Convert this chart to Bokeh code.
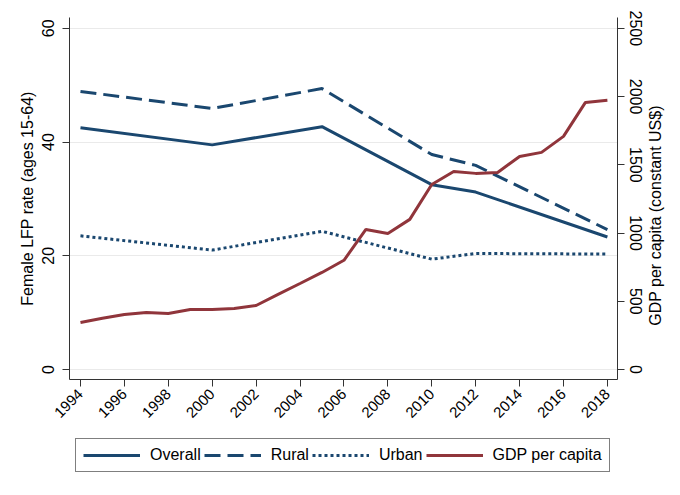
from math import pi

from bokeh.plotting import figure
from bokeh.layouts import column, row
from bokeh.models import Range1d, LinearAxis, FixedTicker, Legend, LegendItem, Label
from bokeh.embed import file_html
from bokeh.resources import INLINE

# survey rounds (female labour force participation, %)
survey_years = [1994, 2000, 2005, 2010, 2012, 2018]
overall = [42.5, 39.5, 42.7, 32.5, 31.2, 23.3]
rural = [48.9, 45.9, 49.4, 37.8, 35.9, 24.6]
urban = [23.5, 21.0, 24.3, 19.4, 20.4, 20.3]

# GDP per capita, constant US$
gdp_years = list(range(1994, 2019))
gdp = [344, 375, 403, 418, 410, 440, 440, 447, 469, 550, 630, 711, 800,
       1026, 997, 1100, 1356, 1451, 1437, 1444, 1561, 1591, 1708, 1957, 1972]

x_ticks = list(range(1994, 2019, 2))
lfp_ticks = [0, 20, 40, 60]
gdp_ticks = [0, 500, 1000, 1500, 2000, 2500]

NAVY = "#1a476f"
MAROON = "#90353b"
FONT = "Liberation Sans"

lo, hi = -1.76, 61.9
fig = figure(
    frame_width=548,
    frame_height=362,
    output_backend="svg",
    toolbar_location=None,
    tools="",
    x_range=Range1d(1993.5, 2018.46),
    y_range=Range1d(lo, hi),
    min_border_left=69,
    min_border_right=30,
    min_border_top=17,
    min_border_bottom=58,
    y_axis_label="Female LFP rate (ages 15-64)")
fig.outline_line_color = None
fig.extra_y_ranges = {"gdp": Range1d(lo * 2500 / 60, hi * 2500 / 60)}
fig.add_layout(LinearAxis(y_range_name="gdp"), "right")

fig.xaxis.ticker = FixedTicker(ticks=x_ticks)
fig.yaxis[0].ticker = FixedTicker(ticks=lfp_ticks)
fig.yaxis[1].ticker = FixedTicker(ticks=gdp_ticks)
fig.xaxis.major_label_orientation = pi / 4
fig.yaxis.major_label_orientation = "vertical"
fig.yaxis[0].major_label_standoff = 8
fig.yaxis[1].major_label_standoff = 5
fig.yaxis.axis_label_standoff = 4

for ax in fig.axis:
    ax.axis_line_color = "#333333"
    ax.major_tick_line_color = "#333333"
    ax.major_tick_out = 7
    ax.major_tick_in = 0
    ax.minor_tick_out = 0
    ax.minor_tick_in = 0
    ax.major_label_text_font = FONT
    ax.major_label_text_font_size = "16px"
    ax.major_label_text_color = "#000000"
    ax.axis_label_text_font = FONT
    ax.axis_label_text_font_size = "16px"
    ax.axis_label_text_font_style = "normal"
    ax.axis_label_text_color = "#000000"
fig.xaxis.major_label_text_font_size = "15px"

fig.xgrid.visible = False
fig.ygrid.ticker = FixedTicker(ticks=lfp_ticks)
fig.ygrid.grid_line_color = "#eaeaea"

series = [
    ("Overall", survey_years, overall, dict(color=NAVY)),
    ("Rural", survey_years, rural, dict(color=NAVY, line_dash="16 7")),
    ("Urban", survey_years, urban, dict(color=NAVY, line_dash="3 3")),
    ("GDP per capita", gdp_years, gdp, dict(color=MAROON)),
]
for label, xs, ys, st in series:
    extra = {"y_range_name": "gdp"} if label == "GDP per capita" else {}
    fig.line(xs, ys, line_width=3, **st, **extra)


def blank(w, h):
    b = figure(frame_width=w, frame_height=h, output_backend="svg",
               toolbar_location=None, tools="", x_axis_type=None, y_axis_type=None,
               x_range=Range1d(0, 1), y_range=Range1d(0, 1), min_border=0)
    b.outline_line_color = None
    b.grid.visible = False
    return b


# right-hand axis title, reading bottom to top
side = blank(33, 437)
side.add_layout(Label(x=8, y=239, x_units="screen", y_units="screen",
                      text="GDP per capita (constant US$)", angle=pi / 2,
                      text_align="center", text_baseline="middle",
                      text_font=FONT, text_font_size="16px", text_color="#000000"))

# legend strip under the chart; its ranges keep the series lines out of view,
# they are only there so that the legend has glyphs to draw
key = blank(680, 56)
items = []
for label, xs, ys, st in series:
    r = key.line(xs, ys, line_width=3, **st)
    items.append(LegendItem(label=label, renderers=[r]))

legend = Legend(
    items=items,
    orientation="horizontal",
    location=(75, 21),
    glyph_width=57,
    glyph_height=16,
    label_height=16,
    label_standoff=10,
    spacing=3,
    padding=7,
    margin=0,
    border_line_color="#000000",
    border_line_width=1,
    label_text_font=FONT,
    label_text_font_size="16px",
    label_text_color="#000000")
key.add_layout(legend, "center")

p = column(row(fig, side, spacing=0), key, spacing=0)
open("out.html", "w").write(file_html(p, INLINE))
